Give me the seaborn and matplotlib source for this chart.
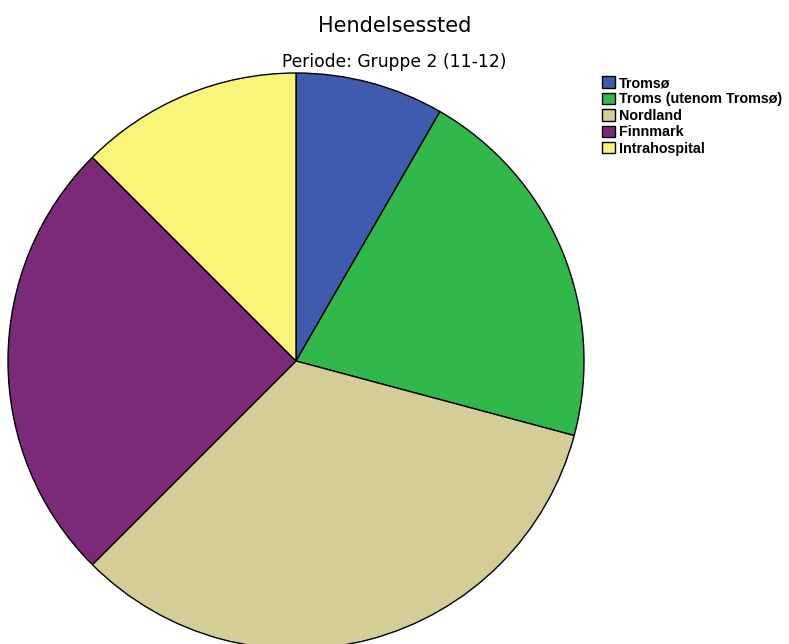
import matplotlib
matplotlib.use("Agg")
import matplotlib.pyplot as plt
import seaborn as sns
from matplotlib.patches import Patch

categories = ["Tromsø", "Troms (utenom Tromsø)", "Nordland", "Finnmark", "Intrahospital"]
values = [2, 5, 8, 6, 3]
colors = ["#3E5BAE", "#30B84A", "#D4CD98", "#7B2A7A", "#F8F57A"]

sns.set_theme(style="white")
plt.rcParams['font.family'] = ['Liberation Sans', 'DejaVu Sans']
plt.rcParams['text.color'] = 'black'

W, H = 789, 644
fig = plt.figure(figsize=(W/100, H/100), dpi=100)
cx, cy, r = 296, 361, 288
ax = fig.add_axes([(cx - r)/W, (H - cy - r)/H, 2*r/W, 2*r/H])
palette = sns.color_palette(colors)
ax.pie(values, colors=palette, startangle=90, counterclock=False, radius=1,
       wedgeprops=dict(edgecolor="black", linewidth=1))
ax.set_xlim(-1, 1)
ax.set_ylim(-1, 1)
ax.set_aspect("auto")
ax.axis("off")

fig.text(0.5, 1 - 32/H, "Hendelsessted", ha="center", va="baseline", fontsize=15,
         color="black", family="DejaVu Sans")
fig.text(0.5, 1 - 67/H, "Periode: Gruppe 2 (11-12)", ha="center", va="baseline", fontsize=12.3,
         color="black", family="DejaVu Sans")

handles = [Patch(facecolor=c, edgecolor="black", linewidth=1.0) for c in colors]
leg = fig.legend(handles, categories, loc="upper left", bbox_to_anchor=(602/W, 1 - 76/H),
                 frameon=False, prop=dict(weight="bold", size=10.25),
                 handlelength=0.92, handleheight=0.85, handletextpad=0.3,
                 labelspacing=0.17, borderpad=0, borderaxespad=0)
for t in leg.get_texts():
    t.set_color("black")

fig.savefig("out.png", dpi=100)
